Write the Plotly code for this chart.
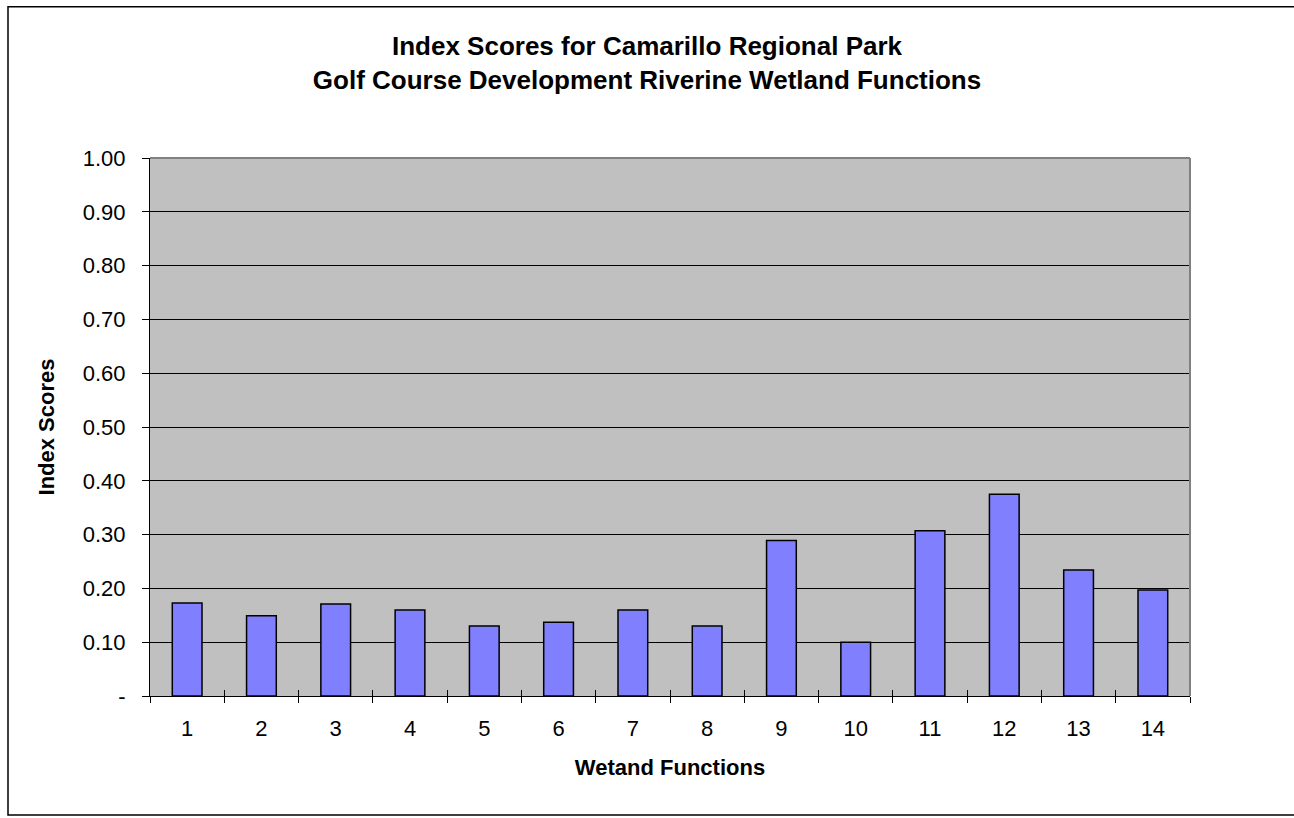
import plotly.graph_objects as go

# Wetland function numbers and their index scores
functions = [str(i) for i in range(1, 15)]
index_scores = [0.173, 0.149, 0.171, 0.160, 0.130, 0.137, 0.160,
                0.130, 0.289, 0.100, 0.307, 0.375, 0.234, 0.197]

# Y-axis ticks (zero shown as a dash, accounting style)
y_tickvals = [0.0, 0.1, 0.2, 0.3, 0.4, 0.5, 0.6, 0.7, 0.8, 0.9, 1.0]
y_ticktext = ["-", "0.10", "0.20", "0.30", "0.40", "0.50",
              "0.60", "0.70", "0.80", "0.90", "1.00"]

FONT = "Liberation Sans, Arial, sans-serif"

fig = go.Figure()
fig.add_trace(go.Bar(
    x=functions,
    y=index_scores,
    marker=dict(color="#8080FF", line=dict(color="black", width=1.5)),
    hoverinfo="x+y",
))

fig.update_layout(
    width=1294,
    height=818,
    margin=dict(l=150, r=104, t=158, b=121.5),
    paper_bgcolor="white",
    plot_bgcolor="#C0C0C0",
    bargap=0.6,
    showlegend=False,
    font=dict(family=FONT, color="black", size=22),
    title=dict(
        text="Index Scores for Camarillo Regional Park<br>"
             "Golf Course Development Riverine Wetland Functions",
        x=0.5, xref="container", xanchor="center",
        y=1 - 55 / 818, yref="container", yanchor="middle",
        font=dict(family=FONT, size=26, color="black", weight="bold"),
    ),
    xaxis=dict(
        type="category",
        categoryorder="array",
        categoryarray=functions,
        range=[-0.5, len(functions) - 0.5],
        showline=True, linecolor="black", linewidth=1,
        ticks="outside", tickson="boundaries", ticklen=6,
        tickcolor="black", tickwidth=1,
        ticklabelstandoff=13,
        tickfont=dict(family=FONT, size=22, color="black"),
        showgrid=False,
        title=dict(text="Wetand Functions", standoff=19,
                   font=dict(family=FONT, size=22, color="black", weight="bold")),
    ),
    # companion axis that draws the inward half of the category ticks
    xaxis2=dict(
        type="category",
        categoryorder="array",
        categoryarray=functions,
        range=[-0.5, len(functions) - 0.5],
        overlaying="x", anchor="y", side="bottom",
        ticks="inside", tickson="boundaries", ticklen=6,
        tickcolor="black", tickwidth=1,
        showticklabels=False, showgrid=False, showline=False,
    ),
    yaxis=dict(
        range=[0, 1.0],
        tickvals=y_tickvals,
        ticktext=y_ticktext,
        showline=True, linecolor="black", linewidth=1,
        ticks="outside", ticklen=7, tickcolor="black", tickwidth=1,
        ticklabelstandoff=12,
        tickfont=dict(family=FONT, size=22, color="black"),
        showgrid=True, gridcolor="black", gridwidth=1,
        zeroline=False,
        title=dict(text="Index Scores", standoff=22,
                   font=dict(family=FONT, size=22, color="black", weight="bold")),
    ),
)

# dummy invisible trace so the companion axis is rendered
fig.add_trace(go.Bar(x=functions, y=[None] * len(functions),
                     xaxis="x2", showlegend=False, hoverinfo="skip"))

# grey frame on the top and right of the plot area
fig.add_shape(type="line", xref="paper", yref="paper", x0=0, x1=1, y0=1, y1=1,
              line=dict(color="#808080", width=2), layer="above")
fig.add_shape(type="line", xref="paper", yref="paper", x0=1, x1=1, y0=0, y1=1,
              line=dict(color="#808080", width=2), layer="above")

# outer chart border
fig.add_shape(type="rect", xref="paper", yref="paper",
              x0=(8 - 150) / 1040, x1=(1300 - 150) / 1040,
              y0=(696.5 - 815.5) / 538.5, y1=(696.5 - 6.5) / 538.5,
              line=dict(color="black", width=1.5), fillcolor="rgba(0,0,0,0)",
              layer="above")

fig.write_html("out.html")
